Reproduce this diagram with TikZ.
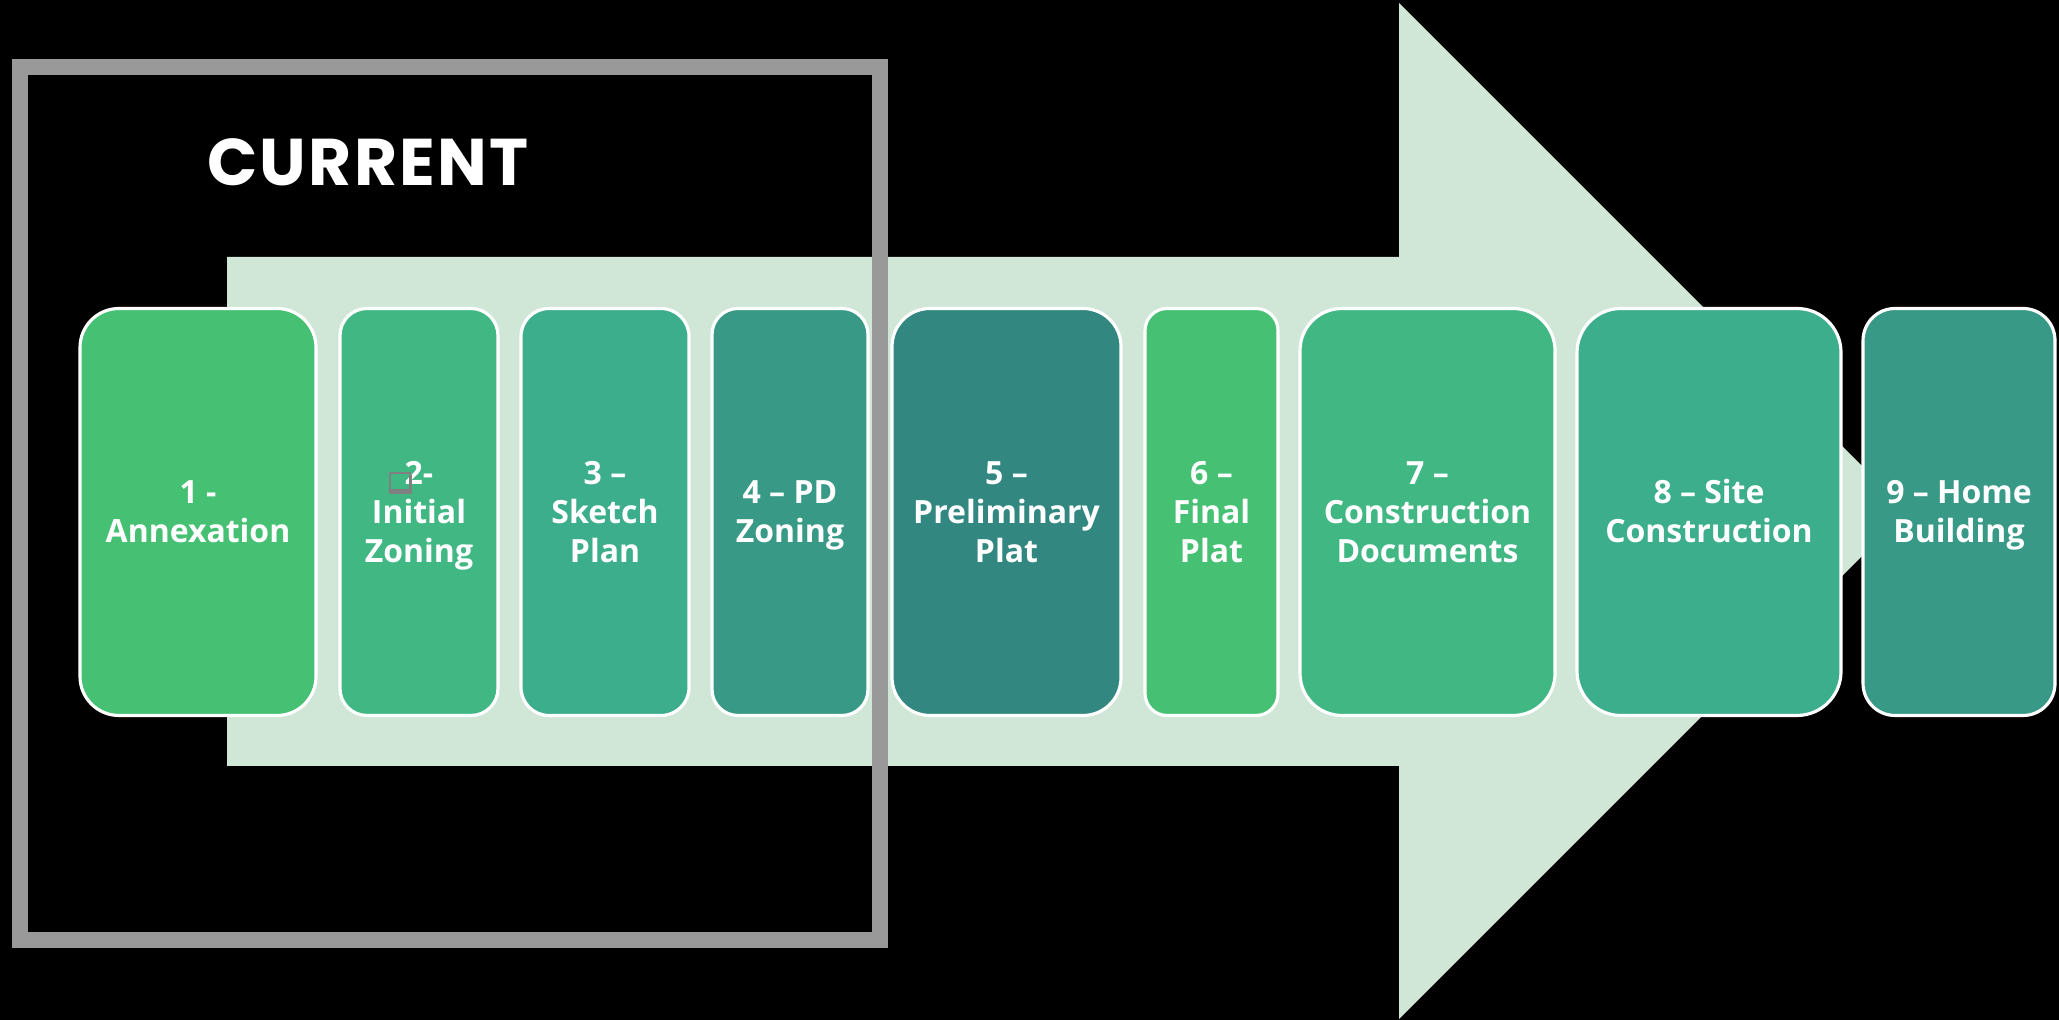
\documentclass[tikz,border=0pt]{standalone}
\usepackage{fontspec}
\setmainfont{Open Sans}
\newfontfamily\titlefont{Poppins}[LetterSpace=3.5]

\definecolor{arrowgreen}{RGB}{208,231,216}
\definecolor{stageA}{RGB}{70,192,115}
\definecolor{stageB}{RGB}{65,184,132}
\definecolor{stageC}{RGB}{61,174,140}
\definecolor{stageD}{RGB}{56,153,134}
\definecolor{stageE}{RGB}{51,135,129}
\definecolor{framegray}{RGB}{153,153,153}
\definecolor{markgray}{RGB}{128,128,128}

% fixed line extents, so every label block centres the same way
\newcommand{\stagetop}{\rule{0pt}{9pt}}
\newcommand{\stagebot}{\rule[-2.5pt]{0pt}{2.5pt}}

\tikzset{
  stage/.style={draw=white, line width=0.9pt, text=white, align=center,
    minimum height=4.07cm, inner sep=0pt,
    font=\fontsize{9.1}{11.1}\selectfont\bfseries},
}

\begin{document}
\begin{tikzpicture}
      \useasboundingbox (0,0) rectangle (20.59,10.2);
      \fill [black] (0,0) rectangle (20.59,10.2);

      % big arrow behind the stages
      \fill [arrowgreen] (2.27,2.54) -- (2.27,7.63) -- (13.99,7.63) -- (13.99,10.17)
        -- (19.07,5.09) -- (13.99,0.01) -- (13.99,2.54) -- cycle;

      \node [stage, fill=stageA, minimum width=2.36cm, rounded corners=0.39cm] (annex) at (1.98, 5.08) {\stagetop 1 -\\Annexation\stagebot};
      \node [stage, fill=stageB, minimum width=1.58cm, rounded corners=0.27cm] (initial) at (4.19, 5.08) {\stagetop 2-\\Initial\\Zoning\stagebot};
      \node [stage, fill=stageC, minimum width=1.68cm, rounded corners=0.28cm] (sketch) at (6.05, 5.08) {\stagetop 3 –\\Sketch\\Plan\stagebot};
      \node [stage, fill=stageD, minimum width=1.56cm, rounded corners=0.26cm] (pdzone) at (7.90, 5.08) {\stagetop 4 – PD\\Zoning\stagebot};
      \node [stage, fill=stageE, minimum width=2.29cm, rounded corners=0.38cm] (prelim) at (10.065, 5.08) {\stagetop 5 –\\Preliminary\\Plat\stagebot};
      \node [stage, fill=stageA, minimum width=1.33cm, rounded corners=0.22cm] (final) at (12.115, 5.08) {\stagetop 6 –\\Final\\Plat\stagebot};
      \node [stage, fill=stageB, minimum width=2.55cm, rounded corners=0.42cm] (docs) at (14.275, 5.08) {\stagetop 7 –\\Construction\\Documents\stagebot};
      \node [stage, fill=stageC, minimum width=2.64cm, rounded corners=0.44cm] (site) at (17.09, 5.08) {\stagetop 8 – Site\\Construction\stagebot};
      \node [stage, fill=stageD, minimum width=1.92cm, rounded corners=0.32cm] (home) at (19.59, 5.08) {\stagetop 9 – Home\\Building\stagebot};

      % small marker left of the 2
      \draw [markgray, line width=0.7pt] (3.90,5.30) rectangle (4.10,5.47);
      \fill [markgray] (3.89,5.26) rectangle (4.12,5.30);
      \fill [markgray] (4.10,5.26) rectangle (4.12,5.45);

      \node [inner sep=0pt, text=white, font=\titlefont\bfseries\fontsize{18.8}{20}\selectfont] (current) at (3.68, 8.58) {CURRENT};

      % grey frame round the first stages
      \draw [framegray, line width=0.16cm] (0.195, 0.80) rectangle (8.80, 9.53);

\end{tikzpicture}
\end{document}
